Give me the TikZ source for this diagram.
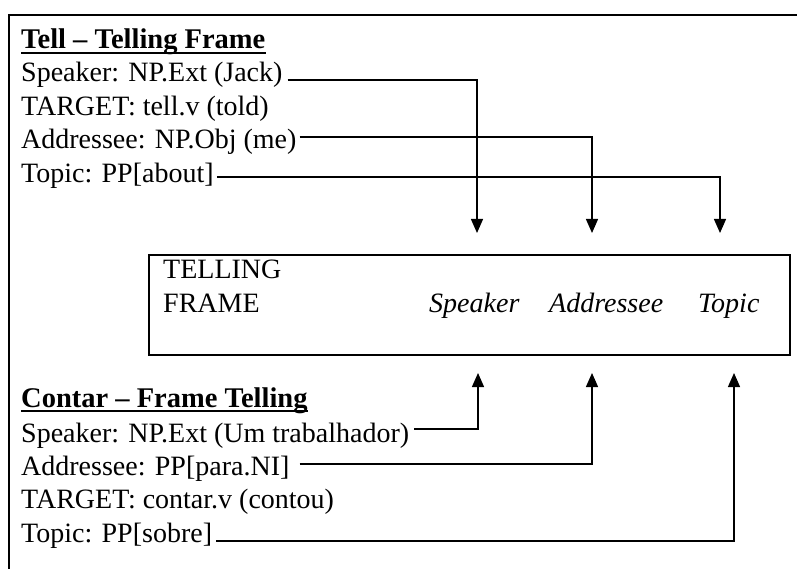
\documentclass[tikz,border=0pt]{standalone}
\usepackage{fontspec}
\setmainfont{Liberation Serif}
\usetikzlibrary{arrows.meta}

\begin{document}
\begin{tikzpicture}[x=1pt,y=-1pt,
  txt/.style={anchor=base west, inner sep=0pt, font=\fontsize{28}{34}\selectfont},
  ttl/.style={anchor=base west, inner sep=0pt, font=\fontsize{28.5}{34}\selectfont\bfseries},
  role/.style={anchor=base west, inner sep=0pt, font=\fontsize{28}{34}\selectfont\itshape},
  link/.style={line width=1.3pt, -{Triangle[length=14pt,width=12pt]}},
  uline/.style={line width=1.4pt},
  framebox/.style={draw, line width=1.6pt, inner sep=0pt}]
\useasboundingbox (0,0) rectangle (797,569);
\fill[white] (0,0) rectangle (797,569);

% page border (top and left edges)
\draw[line width=2.6pt] (797,15) -- (9,15) -- (9,569);

% central frame box
\node[framebox, anchor=north west, minimum width=641pt, minimum height=100pt] (box) at (148,254) {};
\node[txt] (tl) at (163,278) {TELLING};
\node[txt] (fr) at (163,312) {FRAME};
\node[role] (rspk) at (429,312) {Speaker};
\node[role] (radr) at (549,312) {Addressee};
\node[role] (rtop) at (698,312) {Topic};

% English frame
\node[ttl] (t1) at (21,49) {Tell -- Telling Frame};
\draw[uline] ([yshift=-4pt]t1.base west) -- ([yshift=-4pt]t1.base east);
\node[txt] (e1) at (21,82) {Speaker: NP.Ext (Jack)};
\node[txt] (e2) at (21,116) {TARGET: tell.v (told)};
\node[txt] (e3) at (21,149) {Addressee: NP.Obj (me)};
\node[txt] (e4) at (21,183) {Topic: PP[about]};

% Portuguese frame
\node[ttl] (t2) at (21,407) {Contar -- Frame Telling};
\draw[uline] ([yshift=-4pt]t2.base west) -- ([yshift=-4pt]t2.base east);
\node[txt] (p1) at (21,442) {Speaker: NP.Ext (Um trabalhador)};
\node[txt] (p2) at (21,475) {Addressee: PP[para.NI]};
\node[txt] (p3) at (21,508) {TARGET: contar.v (contou)};
\node[txt] (p4) at (21,542) {Topic: PP[sobre]};

% arrow targets above and below the box
\coordinate (ua) at (477,233);
\coordinate (ub) at (592,233);
\coordinate (uc) at (720,233);
\coordinate (la) at (478,373);
\coordinate (lb) at (592,373);
\coordinate (lc) at (734,373);

% connectors
\draw[link] ([shift={(5pt,2pt)}]e1.base east) -| (ua);
\draw[link] ([shift={(3pt,12pt)}]e3.base east) -| (ub);
\draw[link] ([shift={(3pt,6pt)}]e4.base east) -| (uc);
\draw[link] ([shift={(5pt,13pt)}]p1.base east) -| (la);
\draw[link] ([shift={(10pt,11pt)}]p2.base east) -| (lb);
\draw[link] ([shift={(4pt,1pt)}]p4.base east) -| (lc);
\end{tikzpicture}
\end{document}
